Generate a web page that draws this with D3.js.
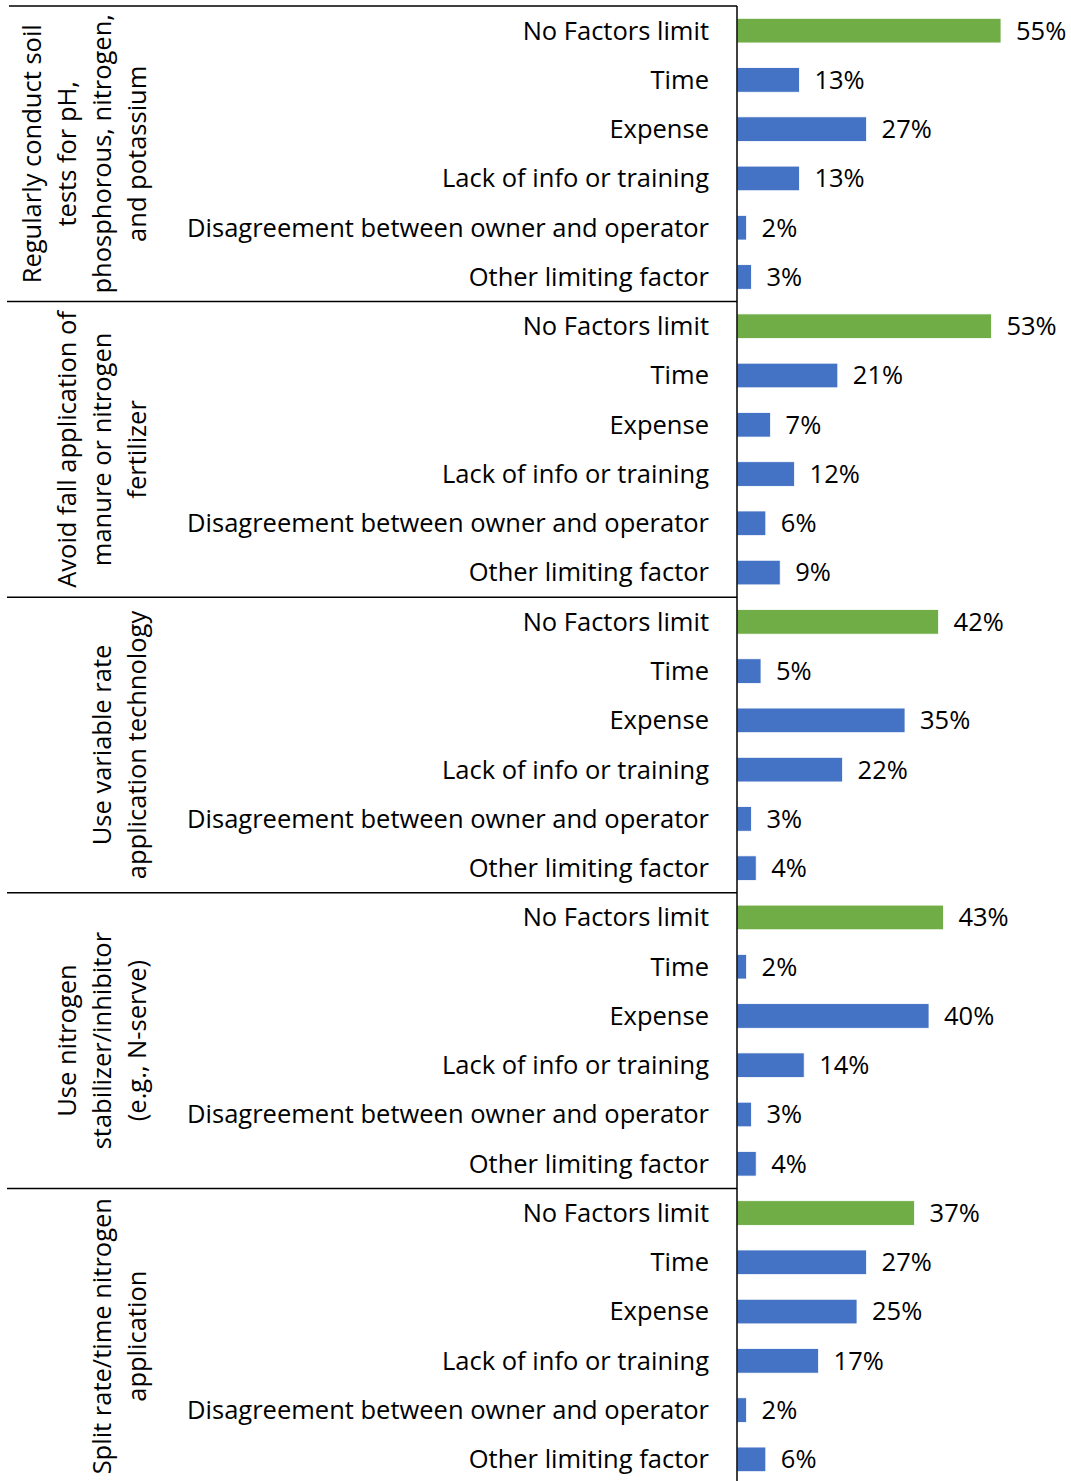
<!DOCTYPE html>
<html>
<head>
<meta charset="utf-8">
<script src="https://cdn.jsdelivr.net/npm/d3@7"></script>
<style>
    body { margin: 0; background: #fff; }
    text { font-family: "Open Sans", "Noto Sans", sans-serif; fill: #000; }
    .sep { stroke: #000; stroke-width: 1.5; }
</style>
</head>
<body>
<script>
// practices (groups), each label split into lines
var practices = [
    ["Regularly conduct soil", "tests for pH,", "phosphorous, nitrogen,", "and potassium"],
    ["Avoid fall application of", "manure or nitrogen", "fertilizer"],
    ["Use variable rate", "application technology"],
    ["Use nitrogen", "stabilizer/inhibitor", "(e.g., N-serve)"],
    ["Split rate/time nitrogen", "application"]
];

// limiting factors (rows inside each group)
var factors = ["No Factors limit", "Time", "Expense", "Lack of info or training",
               "Disagreement between owner and operator", "Other limiting factor"];

// percent values per practice, in factor order
var soilTests   = [55, 13, 27, 13, 2, 3];
var fallApply   = [53, 21, 7, 12, 6, 9];
var variableRate = [42, 5, 35, 22, 3, 4];
var stabilizer  = [43, 2, 40, 14, 3, 4];
var splitRate   = [37, 27, 25, 17, 2, 6];

var seriesList = [soilTests, fallApply, variableRate, stabilizer, splitRate];

(function(){

    var width = 1071,
        height = 1481,
        axisX = 737,
        top = 6,
        groupH = 295.6;

    var svg = d3.select("body")
        .append("svg")
        .attr("width", width)
        .attr("height", height);

    //x scale for bar lengths
    var x = d3.scaleLinear()
        .domain([0, 60])
        .range([axisX, axisX + 288]);

    //band scale for rows inside a group
    var y = d3.scaleBand()
        .domain(factors)
        .range([0, groupH])
        .paddingInner(0.5)
        .paddingOuter(0.25);

    var fontSize = 25.5;

    seriesList.forEach(function(vals, gi){

        var g = svg.append("g")
            .attr("transform", "translate(0," + (top + gi * groupH) + ")");

        var rows = factors.map(function(f, i){ return {factor: f, value: vals[i], idx: i}; });

        //bars
        g.selectAll(".bar")
            .data(rows)
            .enter()
            .append("rect")
            .attr("class", "bar")
            .attr("x", x(0))
            .attr("y", function(d){ return y(d.factor); })
            .attr("width", function(d){ return x(d.value) - x(0); })
            .attr("height", y.bandwidth())
            .style("fill", function(d){ return d.idx == 0 ? "#70AD47" : "#4472C4"; })
            .style("stroke", "#fff")
            .style("stroke-width", 0.8);

        //value labels
        g.selectAll(".val")
            .data(rows)
            .enter()
            .append("text")
            .attr("class", "val")
            .attr("x", function(d){ return x(d.value) + 15; })
            .attr("y", function(d){ return y(d.factor) + y.bandwidth() / 2; })
            .attr("dy", "0.35em")
            .style("font-size", fontSize + "px")
            .text(function(d){ return d.value + "%"; });

        //category labels
        g.selectAll(".cat")
            .data(rows)
            .enter()
            .append("text")
            .attr("class", "cat")
            .attr("x", axisX - 28)
            .attr("y", function(d){ return y(d.factor) + y.bandwidth() / 2; })
            .attr("dy", "0.35em")
            .attr("text-anchor", "end")
            .style("font-size", fontSize + "px")
            .text(function(d){ return d.factor; });

        //group label, rotated, last line fixed near x=137
        var lines = practices[gi];
        var lab = g.append("text")
            .attr("text-anchor", "middle")
            .style("font-size", fontSize + "px")
            .attr("transform", "translate(0," + (groupH / 2) + ") rotate(-90)");
        lines.forEach(function(line, li){
            var lx = 137 - (lines.length - 1 - li) * 35;
            lab.append("tspan")
                .attr("x", 0)
                .attr("y", lx)
                .attr("dy", "0.35em")
                .text(line);
        });

        //separator line at top of group
        g.append("line")
            .attr("class", "sep")
            .attr("x1", gi == 0 ? 9 : 7)
            .attr("x2", axisX)
            .attr("y1", 0)
            .attr("y2", 0);
    });

    //vertical axis line
    svg.append("line")
        .attr("class", "sep")
        .attr("x1", axisX)
        .attr("x2", axisX)
        .attr("y1", top)
        .attr("y2", height);

})();
</script>
</body>
</html>
